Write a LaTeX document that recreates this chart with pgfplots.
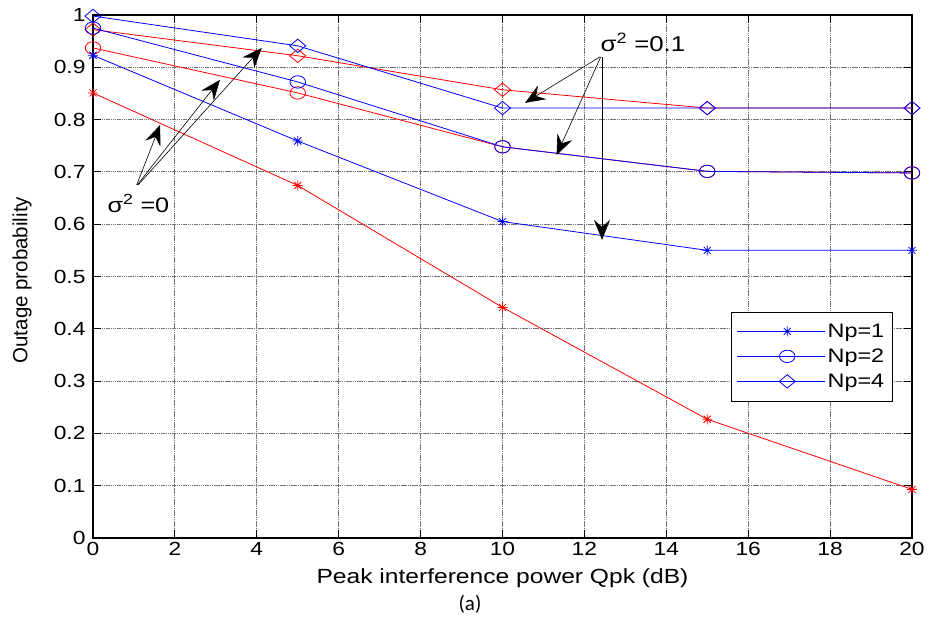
\documentclass[border=0pt]{standalone}
\usepackage{fontspec}
\setmainfont{Liberation Sans}[FakeStretch=1.2]
\newfontfamily\plainsans{Liberation Sans}
\newfontfamily\capfont{Carlito}
\usepackage{pgfplots}
\pgfplotsset{compat=1.18}
\usetikzlibrary{arrows.meta}

\pgfdeclareplotmark{mstar}{%
 \pgfpathmoveto{\pgfqpoint{0pt}{\pgfplotmarksize}}\pgfpathlineto{\pgfqpoint{0pt}{-\pgfplotmarksize}}%
 \pgfpathmoveto{\pgfqpoint{\pgfplotmarksize}{0pt}}\pgfpathlineto{\pgfqpoint{-\pgfplotmarksize}{0pt}}%
 \pgfpathmoveto{\pgfqpoint{.707\pgfplotmarksize}{.707\pgfplotmarksize}}\pgfpathlineto{\pgfqpoint{-.707\pgfplotmarksize}{-.707\pgfplotmarksize}}%
 \pgfpathmoveto{\pgfqpoint{.707\pgfplotmarksize}{-.707\pgfplotmarksize}}\pgfpathlineto{\pgfqpoint{-.707\pgfplotmarksize}{.707\pgfplotmarksize}}%
 \pgfusepathqstroke}

\tikzset{annarrow/.style={black, line width=0.6pt, -{Stealth[length=20pt,width=16pt,inset=7pt]}}}

\begin{document}
\begin{tikzpicture}
\useasboundingbox (0pt,0pt) rectangle (930pt,624pt);
\begin{axis}[
 at={(93pt,86pt)}, anchor=south west, scale only axis,
 width=819pt, height=523pt,
 xmin=0, xmax=20, ymin=0, ymax=1,
 xtick={0,2,4,6,8,10,12,14,16,18,20},
 ytick={0,0.1,0.2,0.3,0.4,0.5,0.6,0.7,0.8,0.9,1},
 /pgf/number format/assume math mode=true,
 ticklabel style={font=\fontsize{19}{22}\selectfont},
 yticklabel style={xshift=-4pt},
 xticklabel style={yshift=-1pt},
 tick align=inside, major tick length=8pt,
 tick style={black, line width=0.8pt},
 axis line style={line width=1.5pt},
 grid=major,
 major grid style={black!55, line width=0.8pt, dash pattern=on 1.5pt off 0.7pt},
 xlabel={Peak interference power Qpk (dB)},
 xlabel style={at={(axis description cs:0.5,-0.0765)}, anchor=center, font=\fontsize{20.5}{24}\selectfont},
 ylabel={Outage probability},
 ylabel style={at={(axis description cs:-0.0867,0.493)}, anchor=center, font=\plainsans\fontsize{20.5}{24}\selectfont},
 clip=false,
 legend style={at={(axis description cs:0.7786,0.4327)}, anchor=north west,
   nodes={font=\fontsize{19.5}{21}\selectfont}, inner xsep=6pt, inner ysep=10pt, row sep=6pt},
 legend cell align=left,
 legend image code/.code={\path (0pt,0pt) -- (86pt,0pt);\draw[mark repeat=2,mark phase=2] plot coordinates {(12pt,0pt)(50pt,0pt)(88pt,0pt)};},
 every axis plot/.append style={line width=0.8pt},
]
% sigma^2 = 0 (red)
\addplot[red, mark=mstar, mark size=5pt, forget plot] coordinates {(0,0.851)(5,0.674)(10,0.441)(15,0.227)(20,0.093)};
\addplot[red, mark=o, mark size=6.2pt, mark options={xscale=1.25}, forget plot] coordinates {(0,0.937)(5,0.851)(10,0.748)(15,0.701)(20,0.698)};
\addplot[red, mark=diamond, mark size=6.7pt, mark options={xscale=1.6}, forget plot] coordinates {(0,0.972)(5,0.922)(10,0.857)(15,0.822)(20,0.822)};
% sigma^2 = 0.1 (blue)
\addplot[blue, mark=mstar, mark size=5pt] coordinates {(0,0.923)(5,0.759)(10,0.605)(15,0.550)(20,0.550)};
\addplot[blue, mark=o, mark size=6.2pt, mark options={xscale=1.25}] coordinates {(0,0.975)(5,0.872)(10,0.748)(15,0.701)(20,0.698)};
\addplot[blue, mark=diamond, mark size=6.7pt, mark options={xscale=1.6}] coordinates {(0,0.998)(5,0.941)(10,0.822)(15,0.822)(20,0.822)};
\legend{Np=1,Np=2,Np=4}
% annotations
\draw[annarrow] (axis cs:1.067,0.675) -- (axis cs:1.64,0.790);
\draw[annarrow] (axis cs:1.08,0.675) -- (axis cs:3.10,0.876);
\draw[annarrow] (axis cs:1.10,0.675) -- (axis cs:4.12,0.937);
\node[anchor=base, font=\fontsize{21}{24}\selectfont] at (axis cs:1.11,0.623) {σ\textsuperscript{2} =0};
\draw[annarrow] (axis cs:12.38,0.920) -- (axis cs:10.55,0.832);
\draw[annarrow] (axis cs:12.40,0.920) -- (axis cs:11.32,0.732);
\draw[annarrow] (axis cs:12.43,0.920) -- (axis cs:12.43,0.570);
\node[anchor=base, font=\fontsize{21.5}{24}\selectfont] at (axis cs:13.43,0.931) {σ\textsuperscript{2} =0.1};
\end{axis}
\node[font=\capfont\fontsize{21}{24}\selectfont] at (470pt,20pt) {(a)};
\end{tikzpicture}
\end{document}
